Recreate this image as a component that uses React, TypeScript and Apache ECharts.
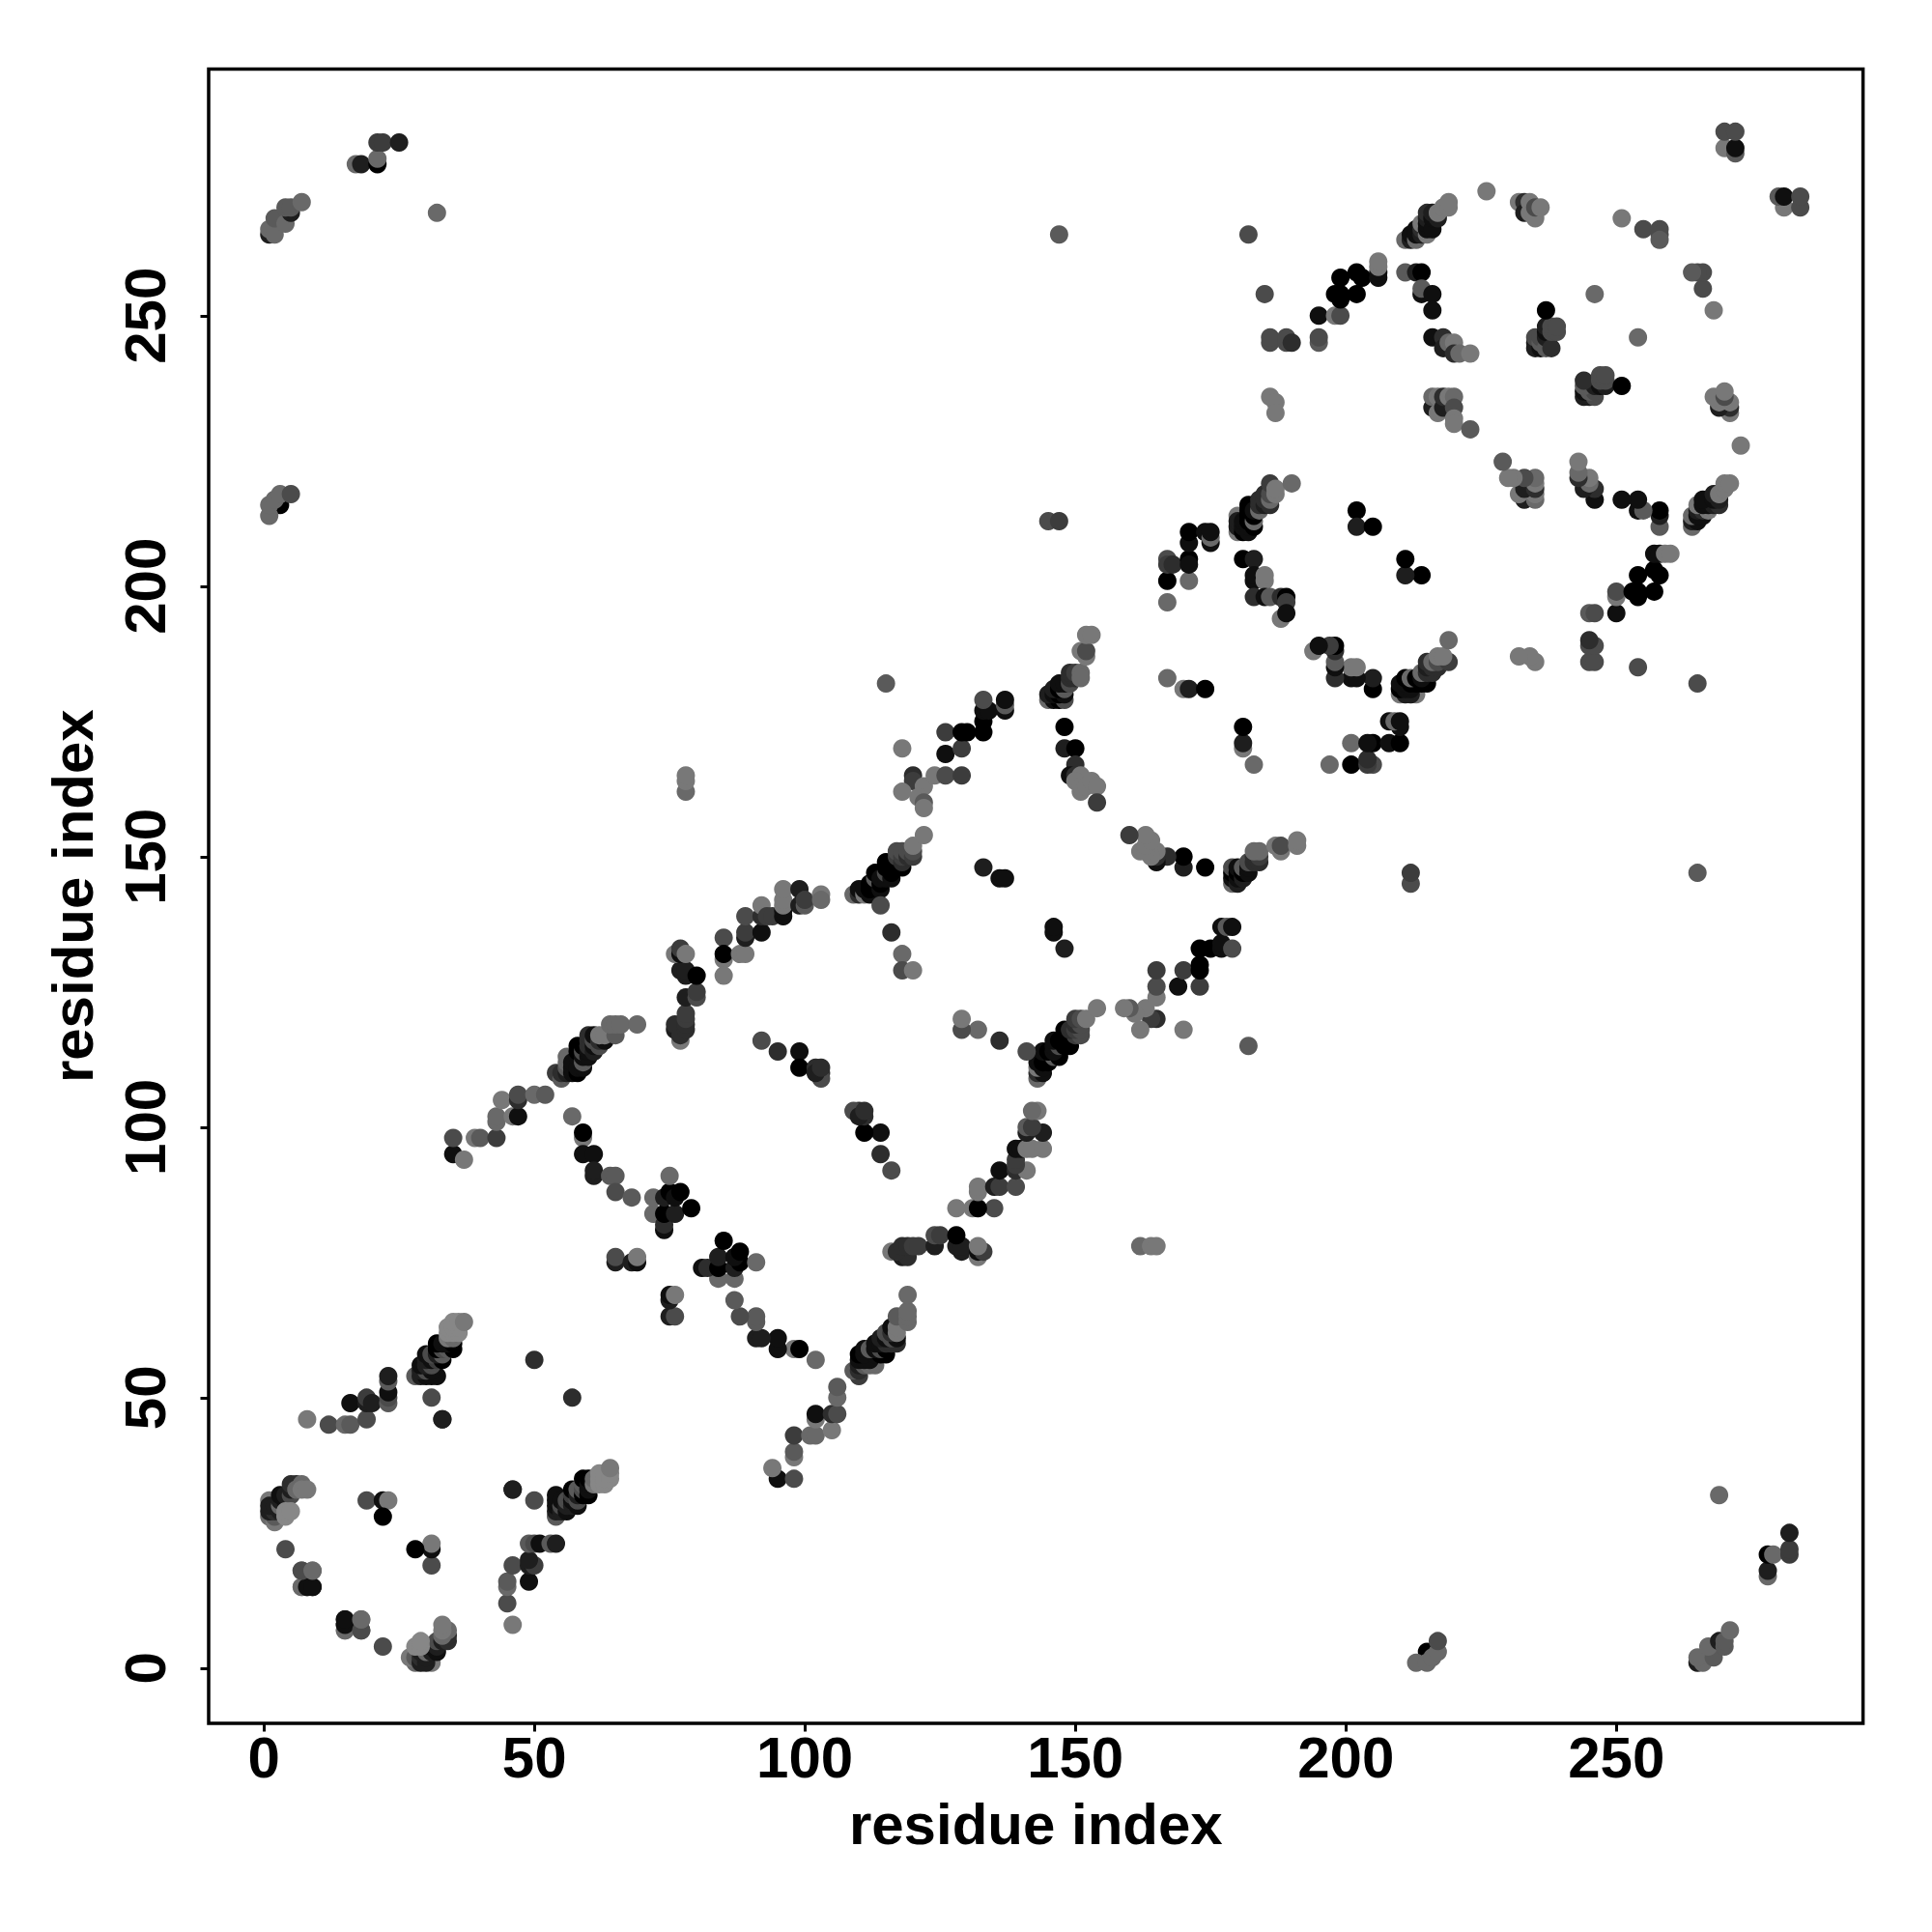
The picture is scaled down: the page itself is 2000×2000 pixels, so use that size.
import React, { useEffect, useRef } from "react";
import * as echarts from "echarts";

// [residue i, residue j, shade level 0 (darkest) .. 9 (lightest)], i < j; the map is symmetric.
type Contact = [number, number, number];

const tickValues = [0, 50, 100, 150, 200, 250];

const domainOne: Contact[] = [
  [1,31,8],[1,28,7],[2,27,8],[2,28,6],[1,29,2],[2,29,3],[3,29,2],[1,30,2],[2,30,2],[3,30,7],[4,30,1],[3,31,2],[4,31,1],[3,32,1],[4,32,2],[5,32,5],[4,28,9],[4,29,9],[5,29,9],
  [5,33,2],[5,34,3],[6,34,3],[6,33,7],[7,34,7],[7,33,8],[8,33,8],
  [4,22,5],[7,18,5],[9,18,7],[7,15,8],[8,15,1],[9,15,1],[15,7,7],[15,8,1],[15,9,1],[18,7,5],[18,9,7],
  [19,31,5],[22,31,1],[23,31,8],[22,28,0],
  [8,46,8],[12,45,5],[15,45,7],[16,45,6],[19,46,5],[16,49,1],[19,49,2],[19,50,4],[20,49,2],
  [23,49,6],[23,50,5],[23,51,1],[23,53,6],[23,54,2],[31,50,5],[33,46,2],[46,33,2],[50,57,3],
];

const strandOne: Contact[] = [
  [28,54,6],[29,54,2],[30,54,1],[31,54,1],[32,54,1],[29,55,2],[30,55,5],[31,55,1],[29,56,1],[30,56,2],[31,56,5],
  [30,57,2],[31,57,1],[32,57,4],[33,57,0],[30,58,1],[31,58,5],[32,58,2],[33,58,6],[32,59,0],[33,59,5],[34,59,6],[35,59,0],
  [32,60,0],[33,60,1],[34,60,1],[35,60,0],[34,61,8],[35,61,7],[34,62,9],[35,62,9],[36,62,9],[34,63,9],[35,63,9],[36,63,9],[35,64,9],[36,64,9],[37,64,8],
];

const domainTwo: Contact[] = [
  [35,95,1],[35,98,5],[37,94,8],[39,98,8],[40,98,6],[43,98,4],[43,101,7],[43,102,7],[44,105,8],[46,102,8],[47,102,1],[47,105,3],[47,106,5],[50,106,7],[52,106,6],
  [54,110,4],[55,109,6],[55,110,3],[56,110,2],[56,111,6],[56,112,7],[56,113,7],[57,110,1],[57,111,1],[57,112,1],[58,110,0],[58,111,1],[58,113,1],[58,114,0],[58,115,0],[59,111,1],[59,112,6],[59,113,1],[59,114,5],[59,115,0],
  [60,113,1],[60,114,1],[60,115,3],[60,116,3],[60,117,3],[61,114,2],[61,115,1],[61,116,5],[61,117,1],[62,115,5],[62,116,3],[63,116,1],[62,117,8],[63,117,8],[65,117,6],[64,119,7],[65,119,7],[66,119,7],[69,119,7],
  [57,102,7],[59,98,8],[59,99,0],[59,95,1],[61,95,1],[61,91,2],[61,92,2],[64,91,6],[65,91,6],[65,88,5],[68,87,6],
  [72,84,7],[72,87,7],[74,81,1],[74,82,3],[74,84,0],[74,87,2],[75,88,0],[75,91,7],[76,84,2],[76,87,1],[77,88,0],[79,85,0],
  [65,75,2],[65,76,5],[68,75,2],[69,75,1],[69,76,8],
  [92,116,5],[95,114,3],[99,114,1],[99,111,0],[102,111,3],[103,110,3],[103,109,5],[102,110,2],[103,111,3],
];

const columnSeven: Contact[] = [
  [77,116,8],[76,118,2],[76,119,3],[77,117,3],[78,118,3],[78,119,3],[78,120,4],[78,121,4],[78,124,2],[80,124,5],[80,125,4],
  [77,129,2],[78,128,2],[78,129,2],[80,128,0],[76,132,8],[77,132,1],[77,133,4],[78,132,8],
  [85,135,5],[85,131,8],[85,128,8],[85,132,0],[88,132,8],[89,132,8],[89,135,2],[89,136,4],[89,139,5],[92,136,1],[92,139,3],[92,141,8],[93,139,4],
  [94,139,4],[96,139,1],[96,140,1],[96,141,8],[96,142,8],[96,144,8],[99,144,2],[99,141,2],[100,141,6],[100,142,4],[103,143,8],[103,142,7],
];

const domainThree: Contact[] = [
  [109,143,7],[110,143,3],[110,144,1],[111,143,8],[111,144,1],[112,143,1],[112,144,0],[112,145,0],[113,145,0],[113,146,6],[113,147,0],[114,144,1],[114,145,0],[114,141,5],[114,146,1],[115,146,1],[115,147,5],[115,148,0],[115,149,0],
  [116,146,1],[116,147,0],[116,148,0],[117,148,0],[117,149,0],[117,150,4],[117,151,5],[118,148,0],[118,149,3],[118,150,4],[118,151,5],[119,150,3],[119,151,5],[120,150,4],[120,151,5],[120,152,8],[122,154,8],
  [116,136,3],[118,132,7],[118,129,5],[120,129,8],[133,148,2],[136,146,1],[137,146,1],
  [115,182,6],[118,170,8],[78,162,7],[78,164,8],[78,165,8],
  [120,165,3],[120,164,4],[118,162,8],[122,163,8],[121,161,8],[122,160,6],[122,159,8],[124,165,8],[126,165,5],[129,165,4],[126,169,1],[129,170,4],[126,173,4],[129,173,0],[130,173,0],
  [133,173,0],[133,175,0],[133,177,1],[134,177,1],[133,179,5],[137,177,1],[137,178,6],[137,179,1],
];

const domainFour: Contact[] = [
  [145,179,7],[146,179,1],[147,179,0],[148,179,5],[145,180,2],[146,180,1],[147,180,0],[148,180,1],[146,181,2],[147,181,0],[148,181,6],[147,182,1],[148,182,1],[149,182,5],[149,183,3],[150,183,3],[149,184,3],[150,184,4],[151,184,7],[151,183,7],
  [151,188,8],[152,187,8],[152,188,5],[152,191,8],[153,191,8],
  [148,174,0],[148,170,2],[150,170,0],[150,167,3],[149,165,1],[150,165,3],[151,165,8],[150,164,8],[151,162,8],[151,163,8],[152,163,8],[153,164,8],[154,163,8],[154,160,4],
  [167,183,7],[170,181,8],[171,181,2],[174,181,0],
  [167,197,7],[167,201,0],[171,201,7],[167,205,5],[167,204,4],[168,204,3],[171,205,0],[171,204,1],[171,208,1],[171,210,0],[174,210,1],[175,208,1],[175,209,7],[175,210,1],
  [145,212,5],[147,212,4],[147,265,6],[182,265,5],
];

const domainFive: Contact[] = [
  [180,210,8],[180,213,8],[180,211,2],[180,212,2],[181,210,0],[181,211,1],[181,212,1],[182,210,1],[182,211,1],[182,212,0],[182,213,0],[182,214,0],[182,215,0],[183,211,0],[183,212,7],[183,213,0],[183,214,1],[184,214,7],[184,215,3],[184,216,3],[185,215,2],[185,216,3],[185,217,3],[186,215,3],[186,216,7],[186,217,5],[186,219,4],[187,217,8],[187,218,8],[190,219,7],
  [181,205,0],[183,205,2],[183,201,1],[183,202,1],[185,201,8],[185,202,8],[183,198,3],[185,198,1],[186,198,6],[188,198,3],[188,194,8],[189,198,0],[189,197,4],[189,195,1],
  [202,214,0],[202,211,2],[205,211,0],
  [185,254,5],[186,245,5],[186,246,5],[189,245,5],[189,246,5],[190,245,3],[195,245,6],[195,246,5],[186,235,8],[187,234,8],[187,232,8],
  [195,250,1],[198,250,8],[199,250,5],[198,254,0],[199,253,0],[199,254,0],[199,257,0],[202,254,0],[202,258,0],[203,257,0],[206,257,1],[206,258,1],[206,259,8],[206,260,8],
];

const domainSix: Contact[] = [
  [211,258,6],[213,258,2],[214,258,0],[214,254,1],[214,255,6],[216,254,1],[216,251,1],
  [216,246,1],[218,246,3],[218,244,2],[219,245,7],[220,245,8],[220,243,3],[221,243,7],[223,243,8],
  [216,233,2],[216,235,7],[217,232,8],[217,235,8],[218,233,2],[218,235,3],[219,235,8],[220,235,7],[220,233,5],[220,231,8],[220,230,8],[223,229,6],
  [235,244,2],[235,245,2],[235,246,5],[236,244,1],[236,245,6],[236,246,5],[237,244,6],[237,246,2],[237,247,1],[237,248,2],[238,244,3],[238,247,5],[238,248,5],[239,247,5],[239,248,5],[237,251,0],[246,254,7],
  [226,273,8],[232,271,8],[233,271,3],[233,269,2],[234,271,8],[234,269,8],[235,268,8],[235,270,5],[236,270,8],
  [251,268,8],[255,266,5],[258,266,5],[258,265,5],[258,264,6],
  [211,264,7],[212,264,2],[212,265,1],[213,264,7],[213,265,1],[213,266,1],[214,265,2],[214,266,3],[214,267,8],[215,265,8],[215,266,1],[215,267,1],[215,268,2],[215,269,3],[216,266,1],[216,268,1],[216,269,2],[217,268,2],[217,269,8],[218,270,8],[219,270,8],[219,271,8],
  [270,281,8],[270,284,5],[272,280,6],[272,281,1],[272,284,5],
];

const chainEnds: Contact[] = [
  [1,265,2],[1,266,7],[2,265,7],[2,268,6],[4,267,7],[5,269,2],[4,270,6],[5,270,6],[7,271,7],
  [3,215,0],[1,213,7],[1,215,7],[2,216,7],[3,217,7],[5,217,5],
  [17,278,7],[18,278,2],[21,278,0],[21,279,7],[21,282,4],[22,282,4],[25,282,2],[32,269,7],
];

const upperTriangle = [
  ...domainOne, ...strandOne, ...domainTwo, ...columnSeven,
  ...domainThree, ...domainFour, ...domainFive, ...domainSix, ...chainEnds,
];
const cleaned = upperTriangle.map(([a, b, s]): Contact => (a < b ? [a, b, s] : [b, a, s]));
const contacts: Contact[] = [...cleaned, ...cleaned.map(([a, b, s]): Contact => [b, a, s])];

const FONT = '"Liberation Sans", Arial, sans-serif';

export default function App() {
  const ref = useRef<HTMLDivElement>(null);
  useEffect(() => {
    const chart = echarts.init(ref.current!, undefined, { renderer: "svg" });
    const axisCommon = {
      type: "value" as const,
      min: -10.2,
      max: 295.6,
      nameLocation: "middle" as const,
      splitLine: { show: false },
      axisLine: { show: false, onZero: false },
      axisTick: { show: true, customValues: tickValues, length: 8.5, lineStyle: { color: "#000", width: 3 } },
      nameTextStyle: { fontFamily: FONT, fontWeight: "bold" as const, fontSize: 60, color: "#000" },
    };
    chart.setOption({
      animation: false,
      backgroundColor: "#fff",
      grid: { left: 216, top: 71.4, width: 1712.6, height: 1712.6, show: true, borderColor: "#000", borderWidth: 3.5, backgroundColor: "transparent" },
      xAxis: {
        ...axisCommon,
        name: "residue index",
        nameGap: 74,
        axisLabel: { customValues: tickValues, margin: 5, fontFamily: FONT, fontWeight: "bold", fontSize: 60, color: "#000" },
      },
      yAxis: {
        ...axisCommon,
        name: "residue index",
        nameGap: 111,
        axisLabel: { customValues: tickValues, rotate: 90, margin: 36, fontFamily: FONT, fontWeight: "bold", fontSize: 60, color: "#000" },
      },
      visualMap: { show: false, type: "continuous", dimension: 2, seriesIndex: 0, min: 0, max: 9, inRange: { color: ["#000000", "#878787"] } },
      series: [
        {
          type: "scatter",
          data: contacts,
          symbol: "circle",
          symbolSize: 19,
          encode: { x: 0, y: 1 },
          itemStyle: { opacity: 1 },
          silent: true,
        },
      ],
    });
    return () => chart.dispose();
  }, []);
  return <div ref={ref} style={{ position: "absolute", left: 0, top: 0, width: 2000, height: 2000 }} />;
}
